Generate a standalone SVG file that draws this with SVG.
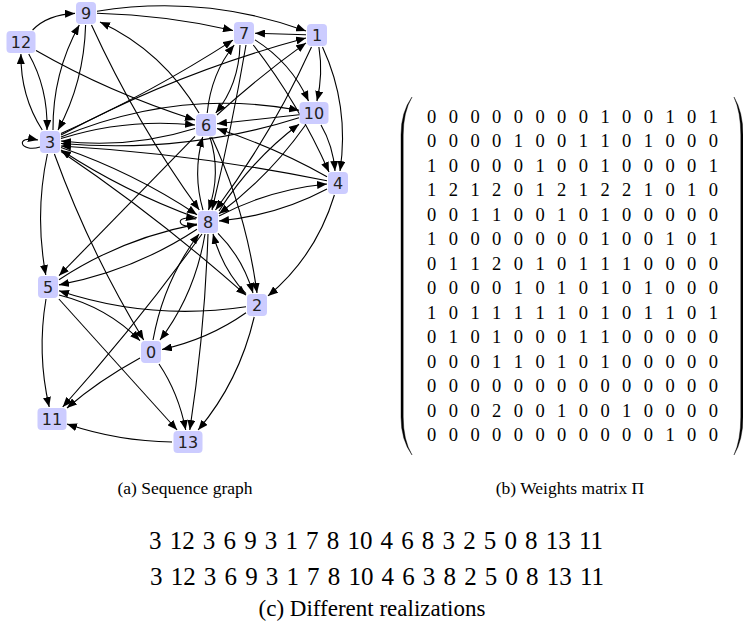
<svg xmlns="http://www.w3.org/2000/svg" width="743" height="629" viewBox="0 0 743 629">
<style>
.e{fill:none;stroke:#000;stroke-width:1.1;marker-end:url(#ah)}
.nd rect{fill:#ccccff}
.nd text{font-family:"DejaVu Sans",sans-serif;font-size:16px;fill:#222;text-anchor:middle}
.m{font-family:"Liberation Serif","DejaVu Serif",serif;font-size:18.5px;fill:#000;text-anchor:middle}
.cap{font-family:"Liberation Serif","DejaVu Serif",serif;font-size:17.5px;fill:#000;text-anchor:middle}
.seq{font-family:"Liberation Serif","DejaVu Serif",serif;font-size:25px;fill:#000;text-anchor:middle;word-spacing:1.9px}
.capc{font-family:"Liberation Serif","DejaVu Serif",serif;font-size:23px;fill:#000;text-anchor:middle}
</style>
<defs>
<marker id="ah" markerUnits="userSpaceOnUse" markerWidth="10" markerHeight="8" refX="10" refY="4" orient="auto">
<path d="M0,0 L10,4 L0,8 z" fill="#000"/>
</marker>
</defs>
<rect width="743" height="629" fill="#fff"/>
<g id="edges">
<path class="e" d="M153,340 Q164,280 199,234"/>
<path class="e" d="M205,234 Q195,294 160,340"/>
<path class="e" d="M140,358 Q98,381 67,408"/>
<path class="e" d="M159,364 Q178.5,393 185.7,430"/>
<path class="e" d="M322.5,47 Q349.7,105.8 340,171"/>
<path class="e" d="M306,34.7 L255,33.3"/>
<path class="e" d="M311.5,47 Q272,134 215.5,210"/>
<path class="e" d="M318.9,47 Q323.3,74.3 316.9,101"/>
<path class="e" d="M246,312.8 Q208.7,339.1 162,349.5"/>
<path class="e" d="M246,306.7 Q150.3,321.1 59,290.7"/>
<path class="e" d="M246,293.7 Q222.5,269.4 213,234"/>
<path class="e" d="M218,233.3 Q242.5,257.6 253,293"/>
<path class="e" d="M254.2,317 Q238.9,381.8 198.1,430"/>
<path class="e" d="M54.4,154 Q90,252 143.7,340"/>
<path class="e" d="M61,135 Q177,72.5 306,38"/>
<path class="e" d="M61,151.5 Q158.4,217.3 246,295.2"/>
<path class="e" d="M40,147 C20,153 14,135 38,140"/>
<path class="e" d="M47.4,154 Q34.5,214.3 45.8,275"/>
<path class="e" d="M61,138.5 Q126.3,117.9 195,125"/>
<path class="e" d="M195,128.5 Q129.7,149.1 61,141"/>
<path class="e" d="M61,133.5 Q150.3,93.3 233,40.1"/>
<path class="e" d="M61,147.5 Q133.8,172.5 197,214.7"/>
<path class="e" d="M197,218 Q124.2,191.5 61,150"/>
<path class="e" d="M53,130 Q52.5,73.2 79.3,25"/>
<path class="e" d="M85.6,25 Q84,82 58,130"/>
<path class="e" d="M61,137 Q177.65,87.9 299,110.25"/>
<path class="e" d="M42.25,130 Q20.5,96.35 20.9,54"/>
<path class="e" d="M28.75,54 Q48,88 47,130"/>
<path class="e" d="M334.4,195 Q315.8,256.15 268,295.9"/>
<path class="e" d="M327,180.8 Q195.2,153.9 61,146"/>
<path class="e" d="M327,176.8 Q274.9,147.4 217,128.6"/>
<path class="e" d="M327,188.9 Q276.9,215.5 219,221"/>
<path class="e" d="M219,216.1 Q269.1,189.5 327,184"/>
<path class="e" d="M59,295 Q107.3,307.1 140,340.7"/>
<path class="e" d="M59,279.7 Q121.5,238.5 197,224.1"/>
<path class="e" d="M197,229.3 Q134.5,270.5 59,284.9"/>
<path class="e" d="M46,299 Q36.8,353.4 49.2,407"/>
<path class="e" d="M58.9,299 L177.1,430"/>
<path class="e" d="M217,115 Q258.8,76.7 306,42.9"/>
<path class="e" d="M211.6,137 Q245.9,210.9 257,293"/>
<path class="e" d="M195,136.3 L59,275.7"/>
<path class="e" d="M207.2,113 Q211.2,73.3 234.2,45"/>
<path class="e" d="M240,45 Q238.8,84.7 215.8,113"/>
<path class="e" d="M209.9,137 Q221.55,173.2 208.5,210"/>
<path class="e" d="M203,210 Q192.45,173.8 202.7,137"/>
<path class="e" d="M199,113 Q162.8,51 100,22"/>
<path class="e" d="M253.3,45 Q298.5,103.3 329,172"/>
<path class="e" d="M246,45 Q231.7,128.6 212,210"/>
<path class="e" d="M255,39.9 Q291,62.5 308.5,101"/>
<path class="e" d="M197,225 C178,231 172,214 196,219"/>
<path class="e" d="M219,211 Q252.3,159 299,124.2"/>
<path class="e" d="M305.5,125 Q269.7,176 219,213.8"/>
<path class="e" d="M202,234 Q135.9,325.2 62.7,407"/>
<path class="e" d="M208,234 Q204.6,332.6 189.8,430"/>
<path class="e" d="M97,11.2 Q204.4,-6 306,31"/>
<path class="e" d="M97,13.3 Q166,15.1 233,30.5"/>
<path class="e" d="M91.5,25 Q136.55,123.6 199.3,210"/>
<path class="e" d="M299,117.7 Q184.9,153.9 61,143.5"/>
<path class="e" d="M321,125 Q333,145.6 335,171"/>
<path class="e" d="M299,114.7 L217,123.8"/>
<path class="e" d="M36,50.6 Q109.35,92.75 195,120"/>
<path class="e" d="M32.6,30 Q47.7,14.5 75,13.4"/>
<path class="e" d="M172,442 Q118.2,441.4 67,424.1"/>
</g>
<g id="n0" class="nd"><rect x="141" y="341" width="20" height="22" rx="4"/><text x="151" y="357.8">0</text></g>
<g id="n1" class="nd"><rect x="307" y="24" width="20" height="22" rx="4"/><text x="317" y="40.8">1</text></g>
<g id="n2" class="nd"><rect x="247" y="294" width="20" height="22" rx="4"/><text x="257" y="310.8">2</text></g>
<g id="n3" class="nd"><rect x="40" y="131" width="20" height="22" rx="4"/><text x="50" y="147.8">3</text></g>
<g id="n4" class="nd"><rect x="328" y="172" width="20" height="22" rx="4"/><text x="338" y="188.8">4</text></g>
<g id="n5" class="nd"><rect x="38" y="276" width="20" height="22" rx="4"/><text x="48" y="292.8">5</text></g>
<g id="n6" class="nd"><rect x="196" y="114" width="20" height="22" rx="4"/><text x="206" y="130.8">6</text></g>
<g id="n7" class="nd"><rect x="234" y="22" width="20" height="22" rx="4"/><text x="244" y="38.8">7</text></g>
<g id="n8" class="nd"><rect x="198" y="211" width="20" height="22" rx="4"/><text x="208" y="227.8">8</text></g>
<g id="n9" class="nd"><rect x="76" y="2" width="20" height="22" rx="4"/><text x="86" y="18.8">9</text></g>
<g id="n10" class="nd"><rect x="299.5" y="102" width="29" height="22" rx="4"/><text x="314" y="118.8">10</text></g>
<g id="n11" class="nd"><rect x="37.5" y="408" width="29" height="22" rx="4"/><text x="52" y="424.8">11</text></g>
<g id="n12" class="nd"><rect x="6.5" y="31" width="29" height="22" rx="4"/><text x="21" y="47.8">12</text></g>
<g id="n13" class="nd"><rect x="173.5" y="431" width="29" height="22" rx="4"/><text x="188" y="447.8">13</text></g>
<g id="matrix">
<path d="M412,97 Q401,112 401,135 L401,417 Q401,440 412,455 Q403.2,440 403.2,417 L403.2,135 Q403.2,112 412,97 Z" fill="#000" stroke="#000" stroke-width="0.4"/>
<path d="M734,97 Q743,112 743,135 L743,417 Q743,440 734,455 Q740.8,440 740.8,417 L740.8,135 Q740.8,112 734,97 Z" fill="#000" stroke="#000" stroke-width="0.4"/>
<text class="m" x="431.7 453.4 475 496.7 518.4 540.1 561.7 583.4 605.1 626.7 648.4 670.1 691.7 713.4" y="122.8">00000000100101</text>
<text class="m" x="431.7 453.4 475 496.7 518.4 540.1 561.7 583.4 605.1 626.7 648.4 670.1 691.7 713.4" y="147.3">00001001101000</text>
<text class="m" x="431.7 453.4 475 496.7 518.4 540.1 561.7 583.4 605.1 626.7 648.4 670.1 691.7 713.4" y="171.8">10000100100001</text>
<text class="m" x="431.7 453.4 475 496.7 518.4 540.1 561.7 583.4 605.1 626.7 648.4 670.1 691.7 713.4" y="196.2">12120121221010</text>
<text class="m" x="431.7 453.4 475 496.7 518.4 540.1 561.7 583.4 605.1 626.7 648.4 670.1 691.7 713.4" y="220.7">00110010100000</text>
<text class="m" x="431.7 453.4 475 496.7 518.4 540.1 561.7 583.4 605.1 626.7 648.4 670.1 691.7 713.4" y="245.2">10000000100101</text>
<text class="m" x="431.7 453.4 475 496.7 518.4 540.1 561.7 583.4 605.1 626.7 648.4 670.1 691.7 713.4" y="269.7">01120101110000</text>
<text class="m" x="431.7 453.4 475 496.7 518.4 540.1 561.7 583.4 605.1 626.7 648.4 670.1 691.7 713.4" y="294.2">00001010101000</text>
<text class="m" x="431.7 453.4 475 496.7 518.4 540.1 561.7 583.4 605.1 626.7 648.4 670.1 691.7 713.4" y="318.6">10111110101101</text>
<text class="m" x="431.7 453.4 475 496.7 518.4 540.1 561.7 583.4 605.1 626.7 648.4 670.1 691.7 713.4" y="343.1">01010001100000</text>
<text class="m" x="431.7 453.4 475 496.7 518.4 540.1 561.7 583.4 605.1 626.7 648.4 670.1 691.7 713.4" y="367.6">00011010100000</text>
<text class="m" x="431.7 453.4 475 496.7 518.4 540.1 561.7 583.4 605.1 626.7 648.4 670.1 691.7 713.4" y="392.1">00000000000000</text>
<text class="m" x="431.7 453.4 475 496.7 518.4 540.1 561.7 583.4 605.1 626.7 648.4 670.1 691.7 713.4" y="416.6">00020010010000</text>
<text class="m" x="431.7 453.4 475 496.7 518.4 540.1 561.7 583.4 605.1 626.7 648.4 670.1 691.7 713.4" y="441">00000000000100</text>
</g>
<text class="cap" x="185" y="494">(a) Sequence graph</text>
<text class="cap" x="570" y="494">(b) Weights matrix Π</text>
<text class="seq" x="376" y="549">3 12 3 6 9 3 1 7 8 10 4 6 8 3 2 5 0 8 13 11</text>
<text class="seq" x="377" y="585">3 12 3 6 9 3 1 7 8 10 4 6 3 8 2 5 0 8 13 11</text>
<text class="capc" x="372" y="616">(c) Different realizations</text>
</svg>
